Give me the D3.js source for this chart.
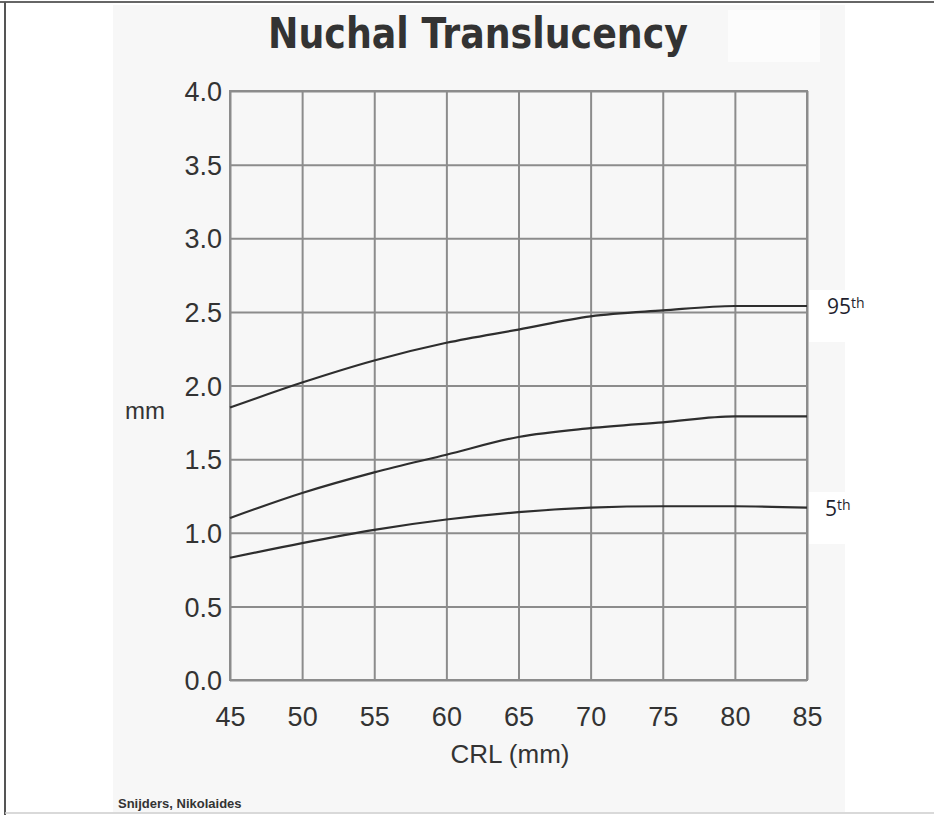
<!DOCTYPE html>
<html>
<head>
<meta charset="utf-8">
<script src="https://cdn.jsdelivr.net/npm/d3@7"></script>
<style>
  body { margin: 0; background: #fff; }
  svg { display: block; }
</style>
</head>
<body>
<div id="chart"></div>
<script>
// chart values
const crl = [45, 50, 55, 60, 65, 70, 75, 80, 85];
const p95 = [1.85, 2.02, 2.17, 2.29, 2.38, 2.47, 2.51, 2.54, 2.54];
const p50 = [1.10, 1.27, 1.41, 1.53, 1.65, 1.71, 1.75, 1.79, 1.79];
const p5  = [0.83, 0.93, 1.02, 1.09, 1.14, 1.17, 1.18, 1.18, 1.17];
const xTicks = [45, 50, 55, 60, 65, 70, 75, 80, 85];
const yTicks = [0, 0.5, 1, 1.5, 2, 2.5, 3, 3.5, 4];

const W = 934, H = 815;
const margin = {top: 91, right: 127, bottom: 135, left: 230},
    width = W - margin.left - margin.right,
    height = H - margin.top - margin.bottom;

const root = d3.select("#chart")
    .append("svg")
        .attr("width", W)
        .attr("height", H);

// page backdrop, pasted label patches and the frame
root.append("rect").attr("x", 113).attr("y", 5).attr("width", 732).attr("height", 807).attr("fill", "#f7f7f7");
root.append("rect").attr("x", 728).attr("y", 10).attr("width", 92).attr("height", 52).attr("fill", "#fcfcfc");
root.append("rect").attr("x", 809).attr("y", 290).attr("width", 90).attr("height", 52).attr("fill", "#fff");
root.append("rect").attr("x", 809).attr("y", 492).attr("width", 90).attr("height", 52).attr("fill", "#fff");
root.append("line").attr("x1", 0).attr("x2", W).attr("y1", 2).attr("y2", 2).attr("stroke", "#666").attr("stroke-width", 2);
root.append("line").attr("x1", 5).attr("x2", 5).attr("y1", 2).attr("y2", H).attr("stroke", "#555").attr("stroke-width", 2);
root.append("line").attr("x1", 5).attr("x2", W).attr("y1", 813).attr("y2", 813).attr("stroke", "#ccc").attr("stroke-width", 1.5);

const svg = root.append("g")
    .attr("transform", "translate(" + margin.left + "," + margin.top + ")");

const x = d3.scaleLinear().domain([45, 85]).range([0, width]);
const y = d3.scaleLinear().domain([0, 4]).range([height, 0]);

// grid + tick labels from the axes
const gx = svg.append("g")
    .attr("transform", "translate(0," + height + ")")
    .call(d3.axisBottom(x).tickValues(xTicks).tickSize(-height).tickPadding(27).tickFormat(d3.format("d")));
const gy = svg.append("g")
    .call(d3.axisLeft(y).tickValues(yTicks).tickSize(-width).tickPadding(8).tickFormat(d3.format(".1f")));

[gx, gy].forEach(function(g) {
    g.select(".domain").remove();
    g.selectAll("line").attr("stroke", "#8c8c8c").attr("stroke-width", 2);
    g.selectAll("text")
        .attr("fill", "#333")
        .style("font-family", "'Liberation Sans', Arial, sans-serif")
        .style("font-size", "27px");
});
gx.selectAll("text").attr("dy", "0.71em");
gy.selectAll("text").attr("dy", "0.36em");

svg.append("rect")
    .attr("width", width).attr("height", height)
    .attr("fill", "none").attr("stroke", "#8c8c8c").attr("stroke-width", 2);

// percentile curves
const line = d3.line()
    .x((d, i) => x(crl[i]))
    .y(d => y(d))
    .curve(d3.curveMonotoneX);

[p95, p50, p5].forEach(function(s) {
    svg.append("path")
        .datum(s)
        .attr("fill", "none")
        .attr("stroke", "#2e2e2e")
        .attr("stroke-width", 2.2)
        .attr("d", line);
});

// title
root.append("text")
    .attr("x", 478).attr("y", 48)
    .attr("text-anchor", "middle")
    .attr("textLength", 420)
    .attr("lengthAdjust", "spacingAndGlyphs")
    .attr("fill", "#333")
    .style("font-family", "'DejaVu Sans', sans-serif")
    .style("font-weight", "bold")
    .style("font-size", "43px")
    .text("Nuchal Translucency");

// axis titles
root.append("text")
    .attr("x", 145).attr("y", 419)
    .attr("text-anchor", "middle")
    .attr("fill", "#333")
    .style("font-family", "'Liberation Sans', Arial, sans-serif")
    .style("font-size", "24px")
    .text("mm");

root.append("text")
    .attr("x", 510).attr("y", 763)
    .attr("text-anchor", "middle")
    .attr("fill", "#333")
    .style("font-family", "'Liberation Sans', Arial, sans-serif")
    .style("font-size", "26px")
    .text("CRL (mm)");

root.append("text")
    .attr("x", 118).attr("y", 808)
    .attr("fill", "#333")
    .style("font-family", "'Liberation Sans', Arial, sans-serif")
    .style("font-weight", "bold")
    .style("font-size", "13px")
    .text("Snijders, Nikolaides");

// percentile labels
function label(xp, yp, num) {
    const t = root.append("text")
        .attr("x", xp).attr("y", yp)
        .attr("fill", "#1f1f2e")
        .style("font-family", "'Open Sans', 'Noto Sans', sans-serif")
        .style("font-size", "21px");
    t.append("tspan").text(num);
    t.append("tspan").attr("dy", -6).style("font-size", "14px").text("th");
}
label(827, 314, "95");
label(825, 516, "5");
</script>
</body>
</html>
